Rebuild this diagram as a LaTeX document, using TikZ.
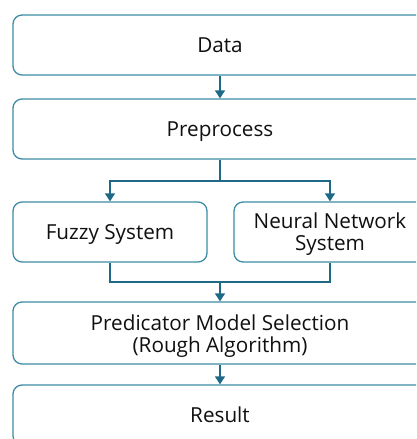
\documentclass[tikz,border=0pt]{standalone}
\usepackage{fontspec}
\setmainfont{Open Sans}
\usetikzlibrary{arrows.meta,calc}
\definecolor{boxline}{HTML}{3C8CA5}
\definecolor{arrowline}{HTML}{1E6986}
\definecolor{txt}{HTML}{101010}
\begin{document}
\begin{tikzpicture}[x=1pt,y=-1pt,
  box/.style={draw=boxline,line width=1.3pt,rounded corners=9pt,align=center,
    font=\fontsize{20.7}{22}\selectfont,text=txt,inner sep=0pt},
  one/.style={text depth=0pt},
  lbl/.style={align=center,font=\fontsize{20.7}{22}\selectfont,text=txt,inner sep=0pt},
  conn/.style={draw=arrowline,line width=1.5pt},
  arr/.style={conn,-{Triangle[width=10pt,length=8pt]}}]
\useasboundingbox (0,0) rectangle (416,439);
\clip (0,0) rectangle (416,439);
\fill[white] (0,0) rectangle (416,439);
\node[box,one,minimum width=414pt,minimum height=60pt] (data) at (220,45) {Data};
\node[box,one,minimum width=414pt,minimum height=60pt] (prep) at (220,129) {Preprocess};
\node[box,one,minimum width=194pt,minimum height=60pt] (fuzzy) at (110,232) {Fuzzy System};
\node[box,minimum width=192pt,minimum height=60pt,
  label={[lbl,yshift=-2.5pt]center:{Neural Network\\System}}] (nn) at (330,232) {};
\node[box,minimum width=414pt,minimum height=62pt,
  label={[lbl,yshift=-3pt]center:{Predicator Model Selection\\(Rough Algorithm)}}] (pred) at (220,333) {};
\node[box,one,minimum width=414pt,minimum height=60pt] (res) at (220,415) {Result};
\coordinate (split) at (220,181);
\coordinate (merge) at (220,282);
\draw[arr] (data) -- (prep);
\draw[conn] (prep) -- (split);
\draw[arr] (split) -| (fuzzy);
\draw[arr] (split) -| (nn);
\draw[conn] (fuzzy) |- (merge);
\draw[conn] (nn) |- (merge);
\draw[arr] (merge) -- (pred);
\draw[arr] (pred) -- (res);
\end{tikzpicture}
\end{document}
